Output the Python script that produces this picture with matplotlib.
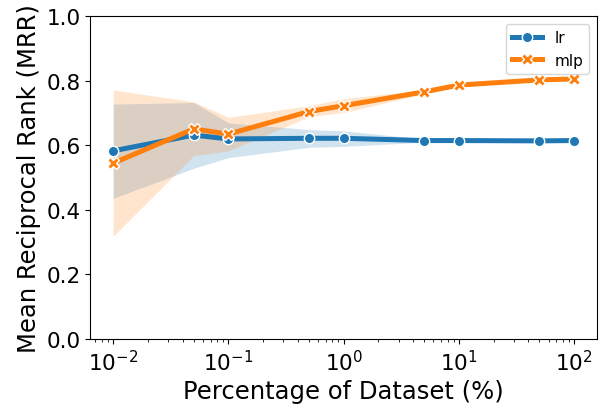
import numpy as np
import matplotlib
matplotlib.use("Agg")
import matplotlib.pyplot as plt

# percentage of dataset used
pct = [0.01, 0.05, 0.1, 0.5, 1, 5, 10, 50, 100]

lr_mean = [0.583, 0.632, 0.620, 0.622, 0.622, 0.615, 0.615, 0.614, 0.615]
lr_lo = [0.436, 0.529, 0.562, 0.594, 0.597, 0.610, 0.611, 0.610, 0.611]
lr_hi = [0.728, 0.733, 0.670, 0.649, 0.645, 0.620, 0.619, 0.618, 0.619]

mlp_mean = [0.545, 0.651, 0.635, 0.705, 0.723, 0.766, 0.787, 0.803, 0.806]
mlp_lo = [0.318, 0.568, 0.583, 0.689, 0.702, 0.760, 0.782, 0.798, 0.802]
mlp_hi = [0.772, 0.735, 0.687, 0.723, 0.745, 0.772, 0.792, 0.808, 0.810]

fig = plt.figure(figsize=(6.05, 4.14), dpi=100)
ax = fig.add_axes([0.149, 0.179, 0.838, 0.779])

series = [
    ("lr", lr_mean, lr_lo, lr_hi, "#1f77b4", "o", 7.5),
    ("mlp", mlp_mean, mlp_lo, mlp_hi, "#ff7f0e", "X", 8.5),
]
for name, m, lo, hi, c, mk, ms in series:
    ax.fill_between(pct, lo, hi, color=c, alpha=0.2, linewidth=0)
    ax.plot(pct, m, color=c, lw=3.6, marker=mk, ms=ms,
            markeredgecolor="white", markeredgewidth=1.0, label=name)

ax.set_xscale("log")
ax.set_xlim(10 ** -2.2, 10 ** 2.2)
ax.set_ylim(0.0, 1.0)
ax.set_yticks(np.arange(0, 1.01, 0.2))
ax.tick_params(labelsize=15.5)
ax.set_xlabel("Percentage of Dataset (%)", fontsize=17.5)
ax.set_ylabel("Mean Reciprocal Rank (MRR)", fontsize=17.5)
ax.legend(loc="upper right", fontsize=11)

fig.savefig("out.png", dpi=100)
